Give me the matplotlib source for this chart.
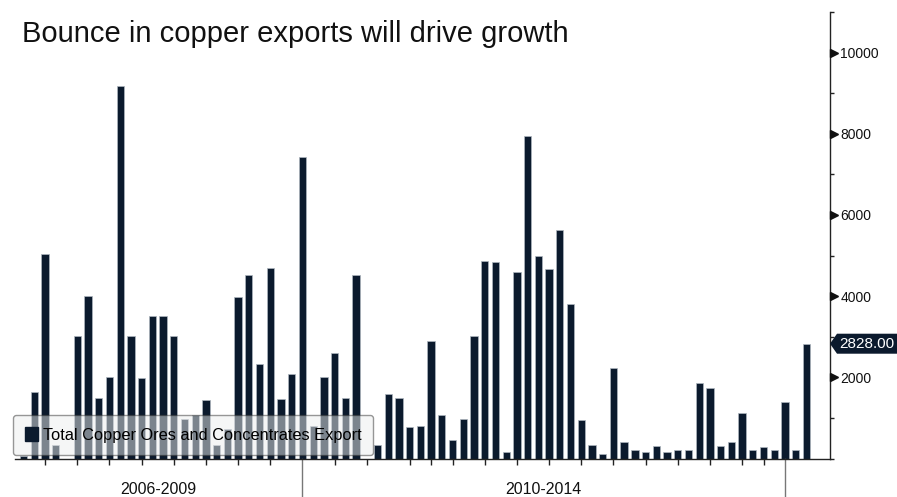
import matplotlib
matplotlib.use("Agg")
import matplotlib.pyplot as plt
import matplotlib.transforms as mtransforms
from matplotlib.patches import Patch, Polygon
from matplotlib.lines import Line2D
import numpy as np

# ---------------- data ----------------
title = "Bounce in copper exports will drive growth"
series_name = "Total Copper Ores and Concentrates Export"
values = [50, 1630, 5040, 340, 0, 3010, 4010, 1500, 2020, 9180,
          3010, 1985, 3500, 3500, 3010, 980, 1080, 1430, 340, 730,
          3990, 4530, 2340, 4700, 1465, 2070, 7440, 800, 2020, 2590,
          1500, 4530, 0, 340, 1590, 1500, 765, 800, 2890, 1070,
          445, 980, 3010, 4870, 4830, 165, 4590, 7950, 4980, 4680,
          5630, 3800, 950, 340, 100, 2220, 400, 220, 165, 310,
          165, 200, 200, 1870, 1745, 310, 410, 1110, 220, 290,
          200, 1380, 200, 2828]
period_labels = ["2006-2009", "2010-2014"]
period_breaks = [26, 71]
x_minor_ticks = [2, 5, 8, 11, 14, 17, 20, 23, 29, 32, 36, 38, 40, 43, 46,
                 49, 52, 55, 58, 61, 64, 67, 69]
y_major = [2000, 4000, 6000, 8000, 10000]
y_minor = [0, 1000, 3000, 5000, 7000, 9000, 11000]
last_value = 2828.00

# ---------------- style ----------------
W, H = 897, 497
BAR = "#0b1a2d"
FONT = ["Liberation Sans", "DejaVu Sans"]
plt.rcParams["font.family"] = FONT

fig = plt.figure(figsize=(W / 100, H / 100), dpi=100)
ax_left, ax_right, ax_top, ax_bot = 15, 830, 12, 458.5
ax = fig.add_axes([ax_left / W, (H - ax_bot) / H,
                   (ax_right - ax_left) / W, (ax_bot - ax_top) / H])

x = np.arange(len(values))
ax.bar(x, values, width=0.68, color=BAR, edgecolor="#aeb6bf", linewidth=0.5,
       zorder=2)
ax.set_xlim(-0.81, 75.2)
ax.set_ylim(0, 11000)

for s in ["top", "left"]:
    ax.spines[s].set_visible(False)
for s in ["right", "bottom"]:
    ax.spines[s].set_color("#222222")
    ax.spines[s].set_linewidth(1.0)

# y axis on right
ax.yaxis.tick_right()
ax.set_yticks(y_major)
ax.set_yticklabels([f"{v:d}" for v in y_major])
ax.set_yticks(y_minor, minor=True)
ax.tick_params(axis="y", which="major", length=0, pad=7.5, labelsize=10,
               labelcolor="#111111")
ax.tick_params(axis="y", which="minor", length=3, width=1, color="#222222",
               direction="out")
ax.tick_params(axis="y", which="both", left=False, right=True)

trans_y = mtransforms.blended_transform_factory(ax.transAxes, ax.transData)
offs = mtransforms.ScaledTranslation(4 / 100, 0, fig.dpi_scale_trans)
ax.plot([1] * len(y_major), y_major, ls="none", marker=">", ms=6,
        color="#111111", transform=trans_y + offs, clip_on=False, zorder=5)

# x axis ticks
ax.set_xticks(x_minor_ticks)
ax.set_xticklabels([])
ax.tick_params(axis="x", which="major", length=4, width=1, color="#222222",
               direction="out")

# period separators and labels
trans_xf = mtransforms.blended_transform_factory(ax.transData, fig.transFigure)
for b in period_breaks:
    ax.add_line(Line2D([b, b], [0, (H - ax_bot) / H], transform=trans_xf,
                       color="#777777", lw=1.0, clip_on=False))
starts = [ax.get_xlim()[0]] + period_breaks[:-1]
for lab, a, b in zip(period_labels, starts, period_breaks):
    ax.text((a + b) / 2, 7 / H, lab, transform=trans_xf, ha="center",
            va="center", fontsize=11.5, color="#111111")

# last value tag
fig.canvas.draw()
tip = ax.transData.transform((ax.get_xlim()[1], last_value))
tx, ty = tip
verts = [(tx, ty), (tx + 7, ty + 10), (W, ty + 10), (W, ty - 10), (tx + 7, ty - 10)]
ax.add_patch(Polygon(verts, closed=True, transform=mtransforms.IdentityTransform(),
                     facecolor=BAR, edgecolor="none", clip_on=False, zorder=6))
ax.annotate(f"{last_value:.2f}", xy=(1, last_value), xycoords=trans_y,
            xytext=(9, 0), textcoords="offset pixels", ha="left", va="center",
            color="white", fontsize=11, zorder=7, annotation_clip=False)

# legend
handle = Patch(facecolor=BAR, edgecolor=BAR)
leg = ax.legend([handle], [series_name], loc="lower left",
                bbox_to_anchor=(13 / W, (H - 455) / H),
                bbox_transform=fig.transFigure, borderaxespad=0,
                frameon=True, fancybox=True, framealpha=0.5,
                facecolor="#eceeee", edgecolor="#333333", fontsize=11.8,
                handlelength=0.8, handleheight=0.9, handletextpad=0.25,
                borderpad=0.75)
leg.get_frame().set_linewidth(1.0)
leg.set_zorder(10)

# title
fig.text(22 / W, 1 - 34 / H, title, ha="left", va="center", fontsize=21,
         color="#111111")

fig.savefig("out.png", dpi=100)
